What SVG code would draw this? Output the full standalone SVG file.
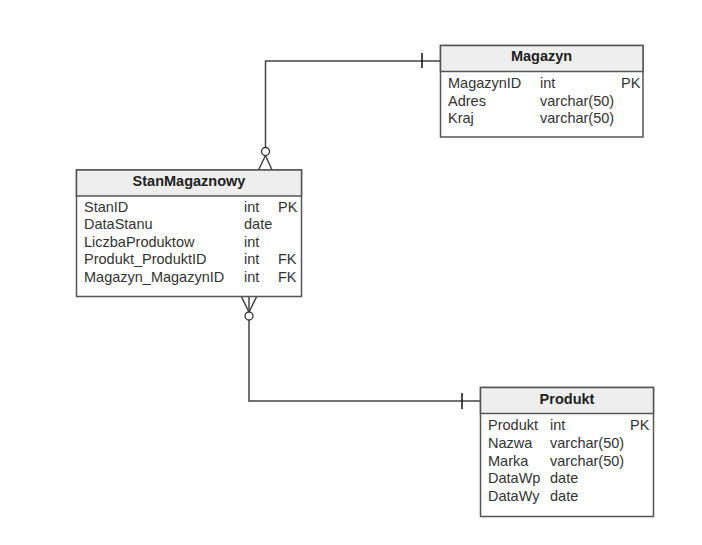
<svg xmlns="http://www.w3.org/2000/svg" width="702" height="545" viewBox="0 0 702 545">
<style>
.box{fill:#ffffff;stroke:#555555;stroke-width:1.5}
.hdr{fill:#eeeeee;stroke:#555555;stroke-width:1.5}
.t{font-family:"Liberation Sans",Arial,sans-serif;font-size:14.5px;fill:#333333}
.h{font-family:"Liberation Sans",Arial,sans-serif;font-size:14.5px;font-weight:bold;fill:#222222;text-anchor:middle}
.ln{fill:none;stroke:#444444;stroke-width:1.5}
.tk{fill:none;stroke:#111111;stroke-width:1.5}
.ci{fill:#ffffff;stroke:#333333;stroke-width:1.3}
</style>
<rect width="702" height="545" fill="#ffffff"/>
<g id="connectors">
  <polyline class="ln" points="440,61 265.5,61 265.5,147.5"/>
  <line class="tk" x1="422" y1="53" x2="422" y2="68"/>
  <line class="ln" x1="265.5" y1="155.5" x2="258.5" y2="170"/>
  <line class="ln" x1="265.5" y1="155.5" x2="272" y2="170"/>
  <circle class="ci" cx="265.5" cy="151.5" r="4"/>
  <polyline class="ln" points="249,320 249,401 480,401"/>
  <line class="tk" x1="462" y1="393" x2="462" y2="409"/>
  <line class="ln" x1="249" y1="312" x2="241.5" y2="297"/>
  <line class="ln" x1="249" y1="312" x2="256.5" y2="297"/>
  <line class="ln" x1="249" y1="312" x2="249" y2="297"/>
  <circle class="ci" cx="249" cy="316" r="4"/>
</g>
<g id="Magazyn">
  <rect class="box" x="440.5" y="45.5" width="202.5" height="91.5"/>
  <rect class="hdr" x="440.5" y="45.5" width="202.5" height="26"/>
  <text class="h" x="541.5" y="61">Magazyn</text>
  <text class="t" x="448" y="88">MagazynID</text>
  <text class="t" x="540" y="88">int</text>
  <text class="t" x="621" y="88">PK</text>
  <text class="t" x="448" y="105.5">Adres</text>
  <text class="t" x="540" y="105.5">varchar(50)</text>
  <text class="t" x="448" y="123">Kraj</text>
  <text class="t" x="540" y="123">varchar(50)</text>
</g>
<g id="StanMagaznowy">
  <rect class="box" x="76.5" y="170" width="225" height="126.5"/>
  <rect class="hdr" x="76.5" y="170" width="225" height="26"/>
  <text class="h" x="189" y="185.5">StanMagaznowy</text>
  <text class="t" x="84" y="211.5">StanID</text>
  <text class="t" x="244" y="211.5">int</text>
  <text class="t" x="278" y="211.5">PK</text>
  <text class="t" x="84" y="229">DataStanu</text>
  <text class="t" x="244" y="229">date</text>
  <text class="t" x="84" y="246.5">LiczbaProduktow</text>
  <text class="t" x="244" y="246.5">int</text>
  <text class="t" x="84" y="264">Produkt_ProduktID</text>
  <text class="t" x="244" y="264">int</text>
  <text class="t" x="278" y="264">FK</text>
  <text class="t" x="84" y="281.5">Magazyn_MagazynID</text>
  <text class="t" x="244" y="281.5">int</text>
  <text class="t" x="278" y="281.5">FK</text>
</g>
<g id="Produkt">
  <rect class="box" x="480.5" y="387.5" width="173" height="129"/>
  <rect class="hdr" x="480.5" y="387.5" width="173" height="26"/>
  <text class="h" x="567" y="404">Produkt</text>
  <text class="t" x="488" y="430">Produkt</text>
  <text class="t" x="550" y="430">int</text>
  <text class="t" x="630" y="430">PK</text>
  <text class="t" x="488" y="448">Nazwa</text>
  <text class="t" x="550" y="448">varchar(50)</text>
  <text class="t" x="488" y="465.5">Marka</text>
  <text class="t" x="550" y="465.5">varchar(50)</text>
  <text class="t" x="488" y="483">DataWp</text>
  <text class="t" x="550" y="483">date</text>
  <text class="t" x="488" y="500.5">DataWy</text>
  <text class="t" x="550" y="500.5">date</text>
</g>
</svg>
